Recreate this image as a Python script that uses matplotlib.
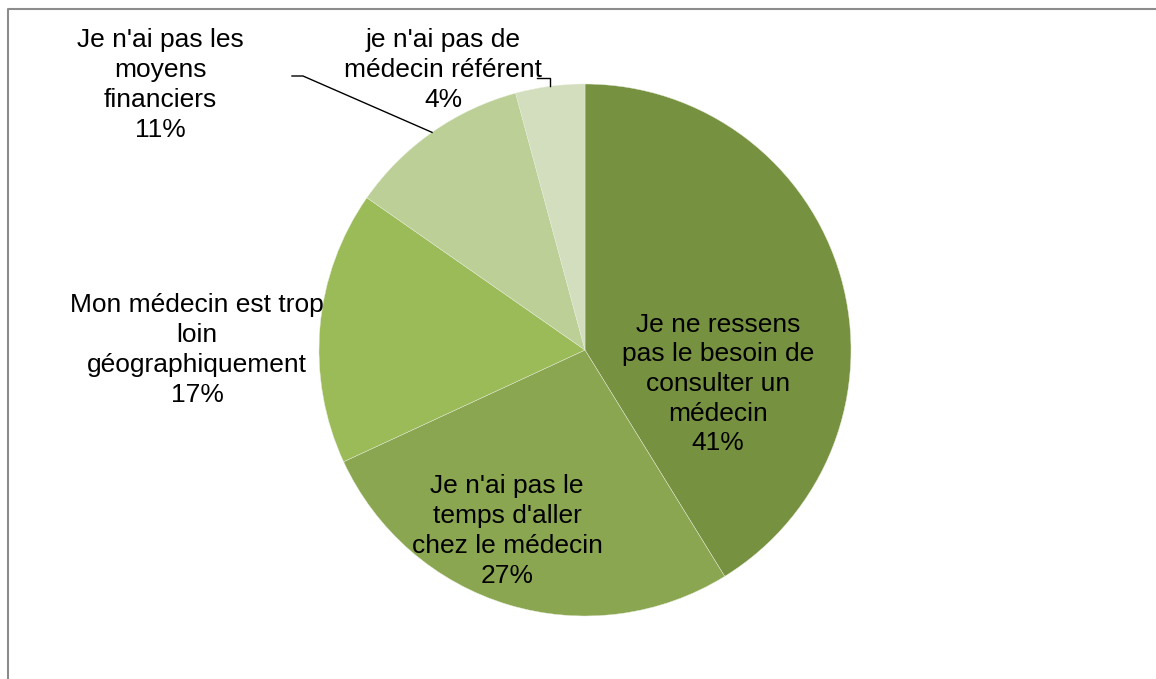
import numpy as np
import matplotlib
matplotlib.use("Agg")
import matplotlib.pyplot as plt

labels = ["Je ne ressens\npas le besoin de\nconsulter un\nmédecin",
          "Je n'ai pas le\ntemps d'aller\nchez le médecin",
          "Mon médecin est trop\nloin\ngéographiquement",
          "Je n'ai pas les\nmoyens\nfinanciers",
          "je n'ai pas de\nmédecin référent"]
values = [41.2, 26.9, 16.6, 11.1, 4.2]
colors = ['#76913F', '#8AA651', '#9BBB59', '#BBCF97', '#D2DEBD']

W, H = 1156, 679
fig = plt.figure(figsize=(W / 100, H / 100), dpi=100)
ax = fig.add_axes([0, 0, 1, 1])

plt.rcParams['font.family'] = ['Liberation Sans', 'DejaVu Sans']

cx, cy, R = 585, H - 350, 266
wedges, _ = ax.pie(values, colors=colors, startangle=90, counterclock=False,
                   center=(cx, cy), radius=R, frame=True,
                   wedgeprops=dict(edgecolor='#E8EEDC', linewidth=0.3))
ax.set_xlim(0, W)
ax.set_ylim(0, H)
ax.set_aspect('equal')
ax.axis('off')

fs = 19
# label centres in pixel coords (x, y from top)
pos = [(718, 384), (507, 531), (197, 350), (160, 85), (443, 70)]
for lab, v, (px, py) in zip(labels, values, pos):
    ax.text(px, H - py, f"{lab}\n{round(v)}%", ha='center', va='center',
            multialignment='center', fontsize=fs, linespacing=1.3, color='black')

# leader lines
def edge_point(w):
    ang = np.deg2rad((w.theta1 + w.theta2) / 2)
    return cx + R * np.cos(ang), cy + R * np.sin(ang)

ex, ey = edge_point(wedges[3])
ax.plot([292, 303, ex], [H - 76, H - 76, ey], color='black', lw=1.0)
ex, ey = edge_point(wedges[4])
ax.plot([537, ex, ex], [H - 78, H - 78, ey], color='black', lw=1.0)

# frame
ax.plot([8, 8, W], [0, H - 9, H - 9], color='#8C8C8C', lw=1.5, solid_capstyle='butt')

fig.savefig('out.png', dpi=100, facecolor='white')
